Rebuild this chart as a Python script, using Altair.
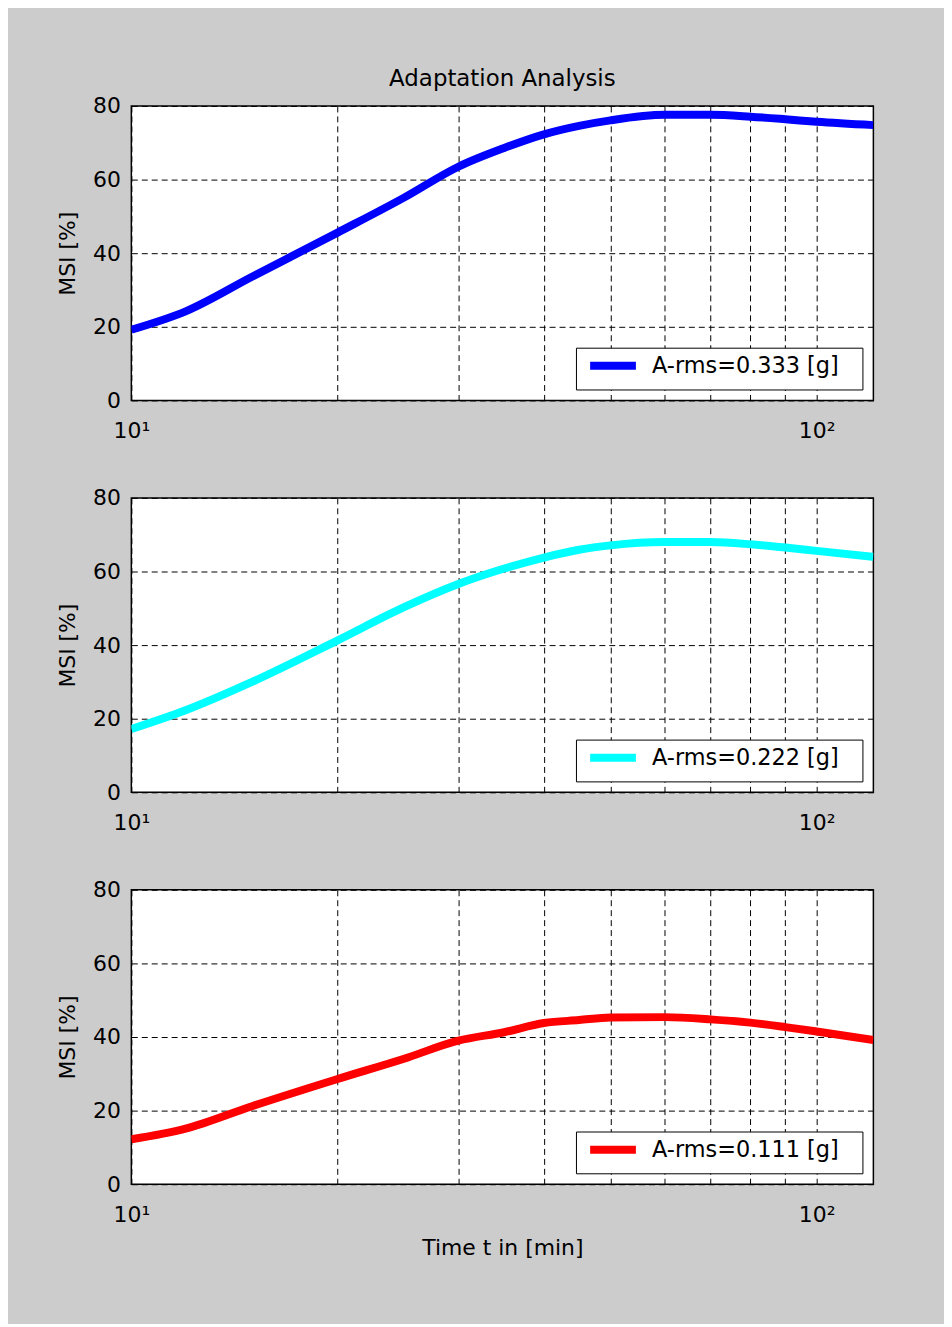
import altair as alt
import pandas as pd

# ---- data ----
time_min = [10, 12, 15, 20, 25, 30, 35, 40, 45, 50, 60, 70, 80, 90, 100, 121]
msi_333 = [19.2, 24.2, 33.6, 45.6, 55.1, 63.5, 68.6, 72.3, 74.6, 76.1, 77.6, 77.6, 77.1, 76.4, 75.7, 74.8]
msi_222 = [17.2, 22.3, 30.0, 41.3, 50.3, 56.6, 60.8, 63.8, 65.9, 67.1, 68.0, 68.0, 67.4, 66.5, 65.6, 64.0]
msi_111 = [12.2, 15.1, 21.2, 28.6, 34.1, 39.0, 41.3, 43.8, 44.6, 45.3, 45.4, 44.8, 43.9, 42.7, 41.5, 39.2]

labels = ["A-rms=0.333 [g]", "A-rms=0.222 [g]", "A-rms=0.111 [g]"]
colors = ["#0000ff", "#00ffff", "#ff0000"]
series = [msi_333, msi_222, msi_111]

x_grid = [10, 20, 30, 40, 50, 60, 70, 80, 90, 100]
y_ticks = [0, 20, 40, 60, 80]

FONT = "DejaVu Sans"
FS = 22
PAD_TAIL = "\u2800"


def panel(values, label, color, first=False, last=False):
    name = label + PAD_TAIL
    df = pd.DataFrame({"t": time_min, "msi": values, "series": [name] * len(values)})
    x_axis = alt.Axis(
        values=x_grid,
        labelExpr="datum.value == 10 ? '10\u00b9' : (datum.value == 100 ? '10\u00b2' : '')",
        grid=True, gridDash=[6, 4], gridColor="black", gridOpacity=1, gridWidth=1,
        ticks=False, tickSize=0, domain=False,
        labelFont=FONT, labelFontSize=FS, labelColor="black", labelPadding=20,
        labelBaseline="top", labelFlush=False, labelOverlap=False,
        title="Time t in [min]" if last else None,
        titleFont=FONT, titleFontSize=FS, titleFontWeight="normal", titleColor="black",
        titlePadding=13,
    )
    y_axis = alt.Axis(
        values=y_ticks,
        grid=True, gridDash=[6, 4], gridColor="black", gridOpacity=1, gridWidth=1,
        ticks=False, tickSize=0, domain=False,
        labelFont=FONT, labelFontSize=FS, labelColor="black", labelPadding=11,
        title="MSI [%]", titleFont=FONT, titleFontSize=FS, titleFontWeight="normal",
        titleColor="black", titlePadding=13,
    )
    ch = alt.Chart(df).mark_line(strokeWidth=8, clip=True, interpolate="monotone").encode(
        x=alt.X("t:Q", scale=alt.Scale(type="log", domain=[10, 121], nice=False), axis=x_axis),
        y=alt.Y("msi:Q", scale=alt.Scale(domain=[0, 80], nice=False), axis=y_axis),
        color=alt.Color(
            "series:N",
            scale=alt.Scale(domain=[name], range=[color]),
            legend=alt.Legend(
                title=None, orient="bottom-right", offset=11,
                fillColor="white", strokeColor="black", padding=7,
                symbolType="M-3.286,0H3.286", symbolStrokeWidth=8, symbolSize=196,
                symbolOffset=19,
                labelFont=FONT, labelFontSize=22.5, labelColor="black",
                labelOffset=28, labelLimit=500,
            ),
        ),
    )
    props = dict(width=746, height=296)
    if first:
        props["title"] = alt.Title(
            "Adaptation Analysis", font=FONT, fontSize=23, fontWeight="normal",
            color="black", anchor="middle", frame="group", offset=4,
        )
    return ch.properties(**props)


charts = [
    panel(series[i], labels[i], colors[i], first=(i == 0), last=(i == 2))
    for i in range(3)
]

chart = alt.vconcat(*charts, spacing=98, bounds="flush").resolve_scale(
    color="independent"
).resolve_legend(color="independent").properties(
    background="#cccccc",
    padding={"left": 48, "top": 56, "right": 70, "bottom": 61},
).configure_view(
    stroke="black", strokeWidth=1.5, fill="white"
)

chart.save("out.html", embed_options={"renderer": "svg", "actions": False})
